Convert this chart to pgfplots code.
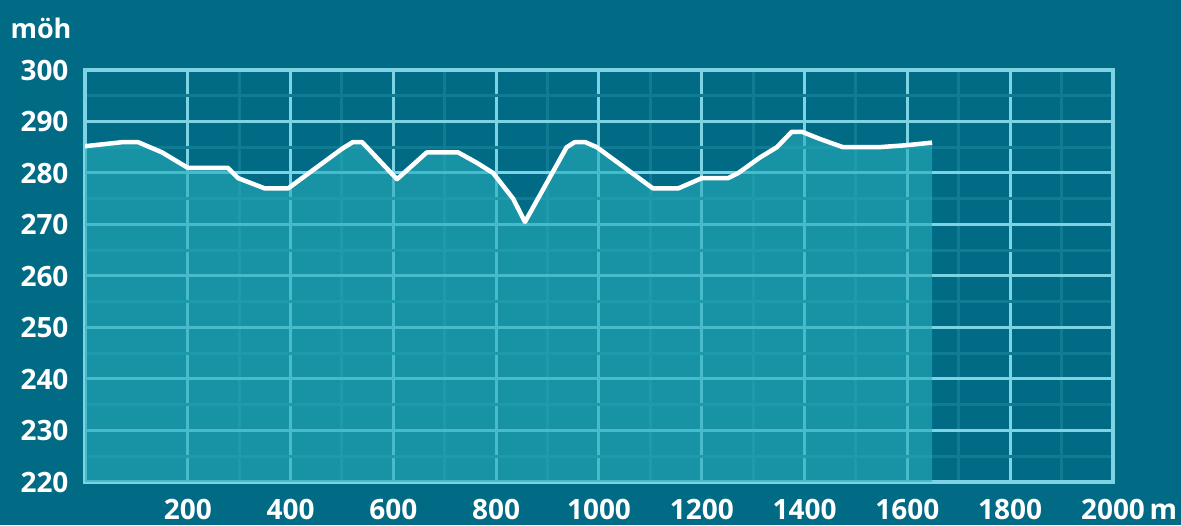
\documentclass[border=0pt]{standalone}
\usepackage{fontspec}
\setmainfont{Open Sans}
\usepackage{pgfplots}
\pgfplotsset{compat=1.18}
\usepackage{pgfplotstable}
\definecolor{bgc}{RGB}{1,106,133}
\definecolor{majorc}{RGB}{126,211,227}
\definecolor{minorc}{RGB}{16,124,148}
\definecolor{fillc}{RGB}{38,173,186}
\pgfplotstableread{
x y
0 285.2
74 286
103 286
150 284
200 281
278 281
298 279
350 277
395 277
500 284.7
521 286
539 286
607 278.8
665 284
726 284
762 282
794 280
833 275
856 270.5
937 285
953 286
973 286
996 285
1105 277
1154 277
1200 279
1251 279
1271 280
1313 283
1346 285
1375 288
1395 288
1430 286.6
1475 285
1543 285
1599 285.4
1648 285.9
}\profile
\begin{document}
\begin{tikzpicture}
\fill[bgc] (0,0) rectangle (1181pt,525pt);
\begin{axis}[
  at={(85pt,43pt)}, anchor=south west,
  width=1028pt, height=412pt, scale only axis,
  xmin=0, xmax=2000, ymin=220, ymax=300,
  xtick={200,400,...,2000},
  xticklabels={200,400,600,800,1000,1200,1400,1600,1800,2000\rlap{\,m}},
  ytick={220,230,...,300},
  minor x tick num=1, minor y tick num=1,
  grid=both,
  major grid style={color=majorc, line width=3pt},
  minor grid style={color=minorc, line width=3pt},
  major tick length=0pt, minor tick length=0pt,
  axis line style={color=majorc, line width=4pt},
  tick label style={font=\fontsize{28}{32}\selectfont\bfseries, text=white},
  xticklabel style={yshift=-14pt},
  yticklabel style={xshift=-13pt},
  /pgf/number format/assume math mode=true,
]
\addplot[draw=none, fill=fillc, fill opacity=0.62] table[x=x,y=y] {\profile} -- (axis cs:1648,220) -- (axis cs:0,220) -- cycle;
\addplot[white, line width=4.5pt, line join=round] table[x=x,y=y] {\profile};
\end{axis}
\node[text=white, font=\fontsize{27}{30}\selectfont\bfseries] at (41pt,497pt) {möh};
\end{tikzpicture}
\end{document}
